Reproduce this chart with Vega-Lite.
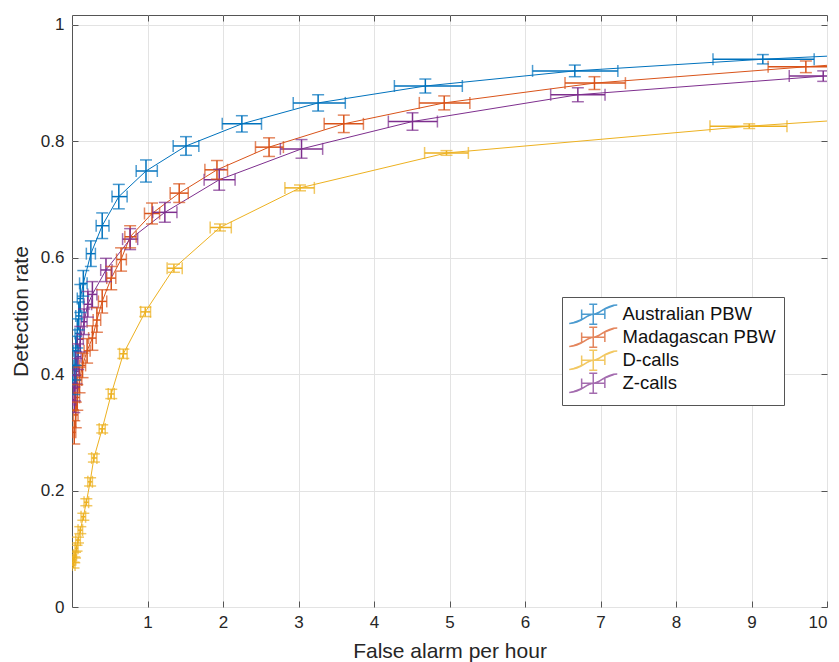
{
  "$schema": "https://vega.github.io/schema/vega-lite/v6.json",
  "width": 755,
  "height": 592,
  "autosize": {"type": "none"},
  "padding": {"left": 72, "top": 15, "right": 12, "bottom": 55},
  "background": "white",
  "config": {
    "font": "Liberation Sans",
    "view": {"stroke": "#555555", "strokeWidth": 1},
    "axis": {
      "labelFont": "Liberation Sans",
      "titleFont": "Liberation Sans",
      "labelFontSize": 17,
      "titleFontSize": 21,
      "titleFontWeight": "normal",
      "labelColor": "#262626",
      "titleColor": "#262626",
      "gridColor": "#e3e3e3",
      "gridWidth": 1,
      "tickColor": "#555555",
      "domain": false
    }
  },
  "data": {
    "values": [
      {"s": "Australian PBW", "x": 0.03, "y": 0.39, "xl": 0.01, "xh": 0.05, "yl": 0.365, "yh": 0.415},
      {"s": "Australian PBW", "x": 0.04, "y": 0.415, "xl": 0.02, "xh": 0.06, "yl": 0.39, "yh": 0.44},
      {"s": "Australian PBW", "x": 0.05, "y": 0.44, "xl": 0.02, "xh": 0.08, "yl": 0.415, "yh": 0.465},
      {"s": "Australian PBW", "x": 0.07, "y": 0.47, "xl": 0.04, "xh": 0.1, "yl": 0.445, "yh": 0.495},
      {"s": "Australian PBW", "x": 0.09, "y": 0.5, "xl": 0.05, "xh": 0.13, "yl": 0.476, "yh": 0.524},
      {"s": "Australian PBW", "x": 0.11, "y": 0.53, "xl": 0.07, "xh": 0.15, "yl": 0.506, "yh": 0.554},
      {"s": "Australian PBW", "x": 0.15, "y": 0.556, "xl": 0.1, "xh": 0.2, "yl": 0.534, "yh": 0.578},
      {"s": "Australian PBW", "x": 0.25, "y": 0.607, "xl": 0.19, "xh": 0.31, "yl": 0.585, "yh": 0.629},
      {"s": "Australian PBW", "x": 0.4, "y": 0.655, "xl": 0.32, "xh": 0.49, "yl": 0.633, "yh": 0.677},
      {"s": "Australian PBW", "x": 0.62, "y": 0.705, "xl": 0.53, "xh": 0.73, "yl": 0.684, "yh": 0.726},
      {"s": "Australian PBW", "x": 0.98, "y": 0.749, "xl": 0.85, "xh": 1.13, "yl": 0.73, "yh": 0.768},
      {"s": "Australian PBW", "x": 1.51, "y": 0.792, "xl": 1.34, "xh": 1.68, "yl": 0.776, "yh": 0.808},
      {"s": "Australian PBW", "x": 2.25, "y": 0.83, "xl": 1.99, "xh": 2.51, "yl": 0.816, "yh": 0.844},
      {"s": "Australian PBW", "x": 3.26, "y": 0.866, "xl": 2.93, "xh": 3.62, "yl": 0.852, "yh": 0.88},
      {"s": "Australian PBW", "x": 4.68, "y": 0.895, "xl": 4.27, "xh": 5.17, "yl": 0.883, "yh": 0.907},
      {"s": "Australian PBW", "x": 6.66, "y": 0.921, "xl": 6.1, "xh": 7.23, "yl": 0.911, "yh": 0.931},
      {"s": "Australian PBW", "x": 9.15, "y": 0.941, "xl": 8.49, "xh": 9.83, "yl": 0.933, "yh": 0.949},
      {"s": "Australian PBW", "x": 10.6, "y": 0.95, "xl": null, "xh": null, "yl": null, "yh": null},

      {"s": "Madagascan PBW", "x": 0.03, "y": 0.3, "xl": 0.01, "xh": 0.05, "yl": 0.28, "yh": 0.32},
      {"s": "Madagascan PBW", "x": 0.05, "y": 0.33, "xl": 0.02, "xh": 0.08, "yl": 0.308, "yh": 0.352},
      {"s": "Madagascan PBW", "x": 0.07, "y": 0.36, "xl": 0.04, "xh": 0.1, "yl": 0.338, "yh": 0.382},
      {"s": "Madagascan PBW", "x": 0.1, "y": 0.39, "xl": 0.07, "xh": 0.13, "yl": 0.368, "yh": 0.412},
      {"s": "Madagascan PBW", "x": 0.14, "y": 0.415, "xl": 0.1, "xh": 0.18, "yl": 0.394, "yh": 0.436},
      {"s": "Madagascan PBW", "x": 0.2, "y": 0.44, "xl": 0.16, "xh": 0.24, "yl": 0.419, "yh": 0.461},
      {"s": "Madagascan PBW", "x": 0.27, "y": 0.462, "xl": 0.22, "xh": 0.32, "yl": 0.441, "yh": 0.483},
      {"s": "Madagascan PBW", "x": 0.33, "y": 0.493, "xl": 0.28, "xh": 0.38, "yl": 0.472, "yh": 0.514},
      {"s": "Madagascan PBW", "x": 0.4, "y": 0.525, "xl": 0.35, "xh": 0.46, "yl": 0.505, "yh": 0.545},
      {"s": "Madagascan PBW", "x": 0.52, "y": 0.565, "xl": 0.46, "xh": 0.58, "yl": 0.545, "yh": 0.585},
      {"s": "Madagascan PBW", "x": 0.65, "y": 0.597, "xl": 0.59, "xh": 0.72, "yl": 0.577, "yh": 0.617},
      {"s": "Madagascan PBW", "x": 0.77, "y": 0.636, "xl": 0.7, "xh": 0.85, "yl": 0.617, "yh": 0.655},
      {"s": "Madagascan PBW", "x": 1.06, "y": 0.676, "xl": 0.96, "xh": 1.16, "yl": 0.658, "yh": 0.694},
      {"s": "Madagascan PBW", "x": 1.42, "y": 0.711, "xl": 1.3, "xh": 1.54, "yl": 0.695, "yh": 0.727},
      {"s": "Madagascan PBW", "x": 1.92, "y": 0.751, "xl": 1.76, "xh": 2.06, "yl": 0.735, "yh": 0.767},
      {"s": "Madagascan PBW", "x": 2.61, "y": 0.79, "xl": 2.43, "xh": 2.8, "yl": 0.774, "yh": 0.806},
      {"s": "Madagascan PBW", "x": 3.6, "y": 0.83, "xl": 3.34, "xh": 3.86, "yl": 0.815, "yh": 0.845},
      {"s": "Madagascan PBW", "x": 4.93, "y": 0.866, "xl": 4.6, "xh": 5.27, "yl": 0.854, "yh": 0.878},
      {"s": "Madagascan PBW", "x": 6.92, "y": 0.9, "xl": 6.53, "xh": 7.33, "yl": 0.889, "yh": 0.911},
      {"s": "Madagascan PBW", "x": 9.72, "y": 0.928, "xl": 9.22, "xh": 10.25, "yl": 0.918, "yh": 0.938},
      {"s": "Madagascan PBW", "x": 10.6, "y": 0.936, "xl": null, "xh": null, "yl": null, "yh": null},

      {"s": "D-calls", "x": 0.02, "y": 0.072, "xl": 0.0, "xh": 0.04, "yl": 0.067, "yh": 0.077},
      {"s": "D-calls", "x": 0.03, "y": 0.081, "xl": 0.01, "xh": 0.05, "yl": 0.076, "yh": 0.086},
      {"s": "D-calls", "x": 0.04, "y": 0.089, "xl": 0.02, "xh": 0.06, "yl": 0.084, "yh": 0.094},
      {"s": "D-calls", "x": 0.06, "y": 0.101, "xl": 0.04, "xh": 0.08, "yl": 0.096, "yh": 0.106},
      {"s": "D-calls", "x": 0.08, "y": 0.115, "xl": 0.05, "xh": 0.11, "yl": 0.11, "yh": 0.12},
      {"s": "D-calls", "x": 0.11, "y": 0.132, "xl": 0.08, "xh": 0.14, "yl": 0.126, "yh": 0.138},
      {"s": "D-calls", "x": 0.15, "y": 0.155, "xl": 0.12, "xh": 0.18, "yl": 0.149, "yh": 0.161},
      {"s": "D-calls", "x": 0.19, "y": 0.18, "xl": 0.16, "xh": 0.22, "yl": 0.174, "yh": 0.186},
      {"s": "D-calls", "x": 0.24, "y": 0.215, "xl": 0.21, "xh": 0.27, "yl": 0.208, "yh": 0.222},
      {"s": "D-calls", "x": 0.29, "y": 0.256, "xl": 0.26, "xh": 0.33, "yl": 0.249, "yh": 0.263},
      {"s": "D-calls", "x": 0.4, "y": 0.306, "xl": 0.36, "xh": 0.44, "yl": 0.299, "yh": 0.313},
      {"s": "D-calls", "x": 0.52, "y": 0.366, "xl": 0.48, "xh": 0.56, "yl": 0.358, "yh": 0.374},
      {"s": "D-calls", "x": 0.68, "y": 0.435, "xl": 0.63, "xh": 0.73, "yl": 0.427, "yh": 0.443},
      {"s": "D-calls", "x": 0.97, "y": 0.507, "xl": 0.91, "xh": 1.04, "yl": 0.499, "yh": 0.515},
      {"s": "D-calls", "x": 1.35, "y": 0.582, "xl": 1.26, "xh": 1.46, "yl": 0.575, "yh": 0.589},
      {"s": "D-calls", "x": 1.96, "y": 0.652, "xl": 1.83, "xh": 2.11, "yl": 0.646, "yh": 0.658},
      {"s": "D-calls", "x": 3.02, "y": 0.72, "xl": 2.82, "xh": 3.21, "yl": 0.715, "yh": 0.725},
      {"s": "D-calls", "x": 4.96, "y": 0.78, "xl": 4.67, "xh": 5.25, "yl": 0.776, "yh": 0.784},
      {"s": "D-calls", "x": 8.97, "y": 0.826, "xl": 8.45, "xh": 9.47, "yl": 0.822, "yh": 0.83},
      {"s": "D-calls", "x": 10.6, "y": 0.84, "xl": null, "xh": null, "yl": null, "yh": null},

      {"s": "Z-calls", "x": 0.03, "y": 0.356, "xl": 0.01, "xh": 0.05, "yl": 0.334, "yh": 0.378},
      {"s": "Z-calls", "x": 0.04, "y": 0.376, "xl": 0.02, "xh": 0.07, "yl": 0.354, "yh": 0.398},
      {"s": "Z-calls", "x": 0.06, "y": 0.405, "xl": 0.03, "xh": 0.09, "yl": 0.383, "yh": 0.427},
      {"s": "Z-calls", "x": 0.08, "y": 0.43, "xl": 0.05, "xh": 0.12, "yl": 0.408, "yh": 0.452},
      {"s": "Z-calls", "x": 0.11, "y": 0.46, "xl": 0.07, "xh": 0.15, "yl": 0.438, "yh": 0.482},
      {"s": "Z-calls", "x": 0.16, "y": 0.49, "xl": 0.12, "xh": 0.2, "yl": 0.468, "yh": 0.512},
      {"s": "Z-calls", "x": 0.21, "y": 0.52, "xl": 0.16, "xh": 0.26, "yl": 0.498, "yh": 0.542},
      {"s": "Z-calls", "x": 0.27, "y": 0.537, "xl": 0.21, "xh": 0.33, "yl": 0.515, "yh": 0.559},
      {"s": "Z-calls", "x": 0.45, "y": 0.579, "xl": 0.38, "xh": 0.53, "yl": 0.559, "yh": 0.599},
      {"s": "Z-calls", "x": 0.77, "y": 0.632, "xl": 0.67, "xh": 0.87, "yl": 0.614, "yh": 0.65},
      {"s": "Z-calls", "x": 1.23, "y": 0.678, "xl": 1.07, "xh": 1.39, "yl": 0.661, "yh": 0.695},
      {"s": "Z-calls", "x": 1.95, "y": 0.734, "xl": 1.75, "xh": 2.16, "yl": 0.716, "yh": 0.752},
      {"s": "Z-calls", "x": 3.04, "y": 0.787, "xl": 2.76, "xh": 3.32, "yl": 0.771, "yh": 0.803},
      {"s": "Z-calls", "x": 4.51, "y": 0.834, "xl": 4.19, "xh": 4.84, "yl": 0.819, "yh": 0.849},
      {"s": "Z-calls", "x": 6.7, "y": 0.88, "xl": 6.34, "xh": 7.06, "yl": 0.868, "yh": 0.892},
      {"s": "Z-calls", "x": 9.95, "y": 0.912, "xl": 9.5, "xh": 10.4, "yl": 0.903, "yh": 0.921}
    ]
  },
  "layer": [
    {
      "mark": {"type": "line", "strokeWidth": 1, "clip": true},
      "encoding": {
        "x": {
          "field": "x", "type": "quantitative",
          "scale": {"domain": [0, 10], "nice": false, "zero": false},
          "axis": {
            "orient": "bottom", "values": [1, 2, 3, 4, 5, 6, 7, 8, 9, 10],
            "tickSize": -6, "labelPadding": 13, "grid": true,
            "title": "False alarm per hour", "titlePadding": 10
          }
        },
        "y": {
          "field": "y", "type": "quantitative",
          "scale": {"domain": [0, 1.017], "nice": false, "zero": false},
          "axis": {
            "orient": "left", "values": [0, 0.2, 0.4, 0.6, 0.8, 1], "format": "~g",
            "tickSize": -6, "labelPadding": 14, "grid": true,
            "title": "Detection rate", "titlePadding": 9
          }
        },
        "color": {
          "field": "s", "type": "nominal",
          "scale": {
            "domain": ["Australian PBW", "Madagascan PBW", "D-calls", "Z-calls"],
            "range": ["#0072BD", "#D95319", "#EDB120", "#7E2F8E"]
          },
          "legend": {
            "title": null, "orient": "none", "legendX": 490, "legendY": 282,
            "padding": 8, "strokeColor": "#555555", "fillColor": "white",
            "labelFont": "Liberation Sans", "labelFontSize": 18.5, "labelColor": "#111111",
            "symbolType": "M-1.45,0H1.45M-1.45,-0.6V0.6M1.45,-0.6V0.6M0,-1.25V1.25M-0.5,-1.25H0.5M-0.5,1.25H0.5M-3,1.15C-1.4,1.15 -0.9,0 0,0C0.9,0 1.4,-1.15 3,-1.15",
            "symbolSize": 256, "symbolStrokeWidth": 1.5, "symbolFillColor": "transparent",
            "symbolOffset": 14, "labelOffset": 20, "rowPadding": -4
          }
        }
      }
    },
    {
      "transform": [{"filter": "isValid(datum.xl)"}],
      "mark": {"type": "rule", "strokeWidth": 1.5, "clip": true},
      "encoding": {
        "x": {"field": "xl", "type": "quantitative", "axis": null},
        "x2": {"field": "xh"},
        "y": {"field": "y", "type": "quantitative", "axis": null},
        "color": {"field": "s", "type": "nominal"}
      }
    },
    {
      "transform": [{"filter": "isValid(datum.xl)"}],
      "mark": {"type": "rule", "strokeWidth": 1.5, "clip": true},
      "encoding": {
        "x": {"field": "x", "type": "quantitative", "axis": null},
        "y": {"field": "yl", "type": "quantitative", "axis": null},
        "y2": {"field": "yh"},
        "color": {"field": "s", "type": "nominal"}
      }
    },
    {
      "transform": [{"filter": "isValid(datum.xl)"}],
      "mark": {"type": "tick", "orient": "vertical", "size": 12, "thickness": 1.5, "clip": true},
      "encoding": {
        "x": {"field": "xl", "type": "quantitative", "axis": null},
        "y": {"field": "y", "type": "quantitative", "axis": null},
        "color": {"field": "s", "type": "nominal"}
      }
    },
    {
      "transform": [{"filter": "isValid(datum.xl)"}],
      "mark": {"type": "tick", "orient": "vertical", "size": 12, "thickness": 1.5, "clip": true},
      "encoding": {
        "x": {"field": "xh", "type": "quantitative", "axis": null},
        "y": {"field": "y", "type": "quantitative", "axis": null},
        "color": {"field": "s", "type": "nominal"}
      }
    },
    {
      "transform": [{"filter": "isValid(datum.xl)"}],
      "mark": {"type": "tick", "orient": "horizontal", "size": 12, "thickness": 1.5, "clip": true},
      "encoding": {
        "x": {"field": "x", "type": "quantitative", "axis": null},
        "y": {"field": "yl", "type": "quantitative", "axis": null},
        "color": {"field": "s", "type": "nominal"}
      }
    },
    {
      "transform": [{"filter": "isValid(datum.xl)"}],
      "mark": {"type": "tick", "orient": "horizontal", "size": 12, "thickness": 1.5, "clip": true},
      "encoding": {
        "x": {"field": "x", "type": "quantitative", "axis": null},
        "y": {"field": "yh", "type": "quantitative", "axis": null},
        "color": {"field": "s", "type": "nominal"}
      }
    },
    {
      "mark": {"type": "point", "opacity": 0},
      "encoding": {
        "x": {
          "field": "x", "type": "quantitative",
          "axis": {"orient": "top", "values": [1, 2, 3, 4, 5, 6, 7, 8, 9, 10], "labels": false, "tickSize": -6, "grid": false, "title": null}
        },
        "y": {
          "field": "y", "type": "quantitative",
          "axis": {"orient": "right", "values": [0, 0.2, 0.4, 0.6, 0.8, 1], "labels": false, "tickSize": -6, "grid": false, "title": null}
        }
      }
    }
  ],
  "resolve": {"axis": {"x": "independent", "y": "independent"}}
}
